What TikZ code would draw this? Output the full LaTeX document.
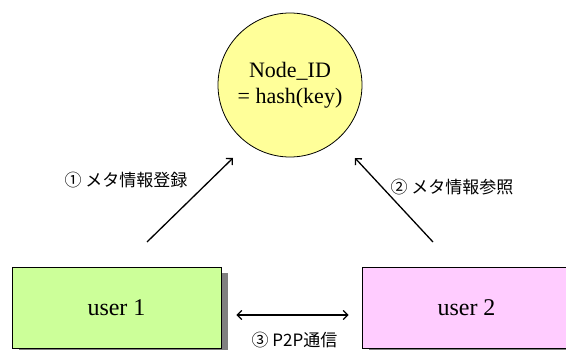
\documentclass[tikz,border=0pt]{standalone}
\usepackage{fontspec}
\setmainfont{Liberation Serif}
\newfontfamily\jpfont{Noto Sans CJK JP}
\usetikzlibrary{arrows.meta,shadows}
\definecolor{circfill}{HTML}{FFFF99}
\definecolor{greenfill}{HTML}{CCFF99}
\definecolor{pinkfill}{HTML}{FFCCFF}
\definecolor{shadowgray}{HTML}{808080}
\tikzset{
  hashcircle/.style={circle,draw=black,line width=0.8pt,fill=circfill,minimum size=144pt,inner sep=0pt,align=center,font=\fontsize{22}{26}\selectfont},
  userbox/.style={rectangle,draw=black,line width=0.8pt,minimum width=209pt,minimum height=81pt,inner sep=0pt,font=\fontsize{24}{28}\selectfont,
    drop shadow={shadow xshift=6.5pt,shadow yshift=-6.5pt,fill=shadowgray,opacity=1}},
  conn/.style={line width=1.3pt,-{Straight Barb[length=4.5pt,width=9pt,line width=1.3pt]}},
  biconn/.style={line width=1.3pt,{Straight Barb[length=4.5pt,width=9pt,line width=1.3pt]}-{Straight Barb[length=4.5pt,width=9pt,line width=1.3pt]}},
  steplabel/.style={inner sep=0pt,font=\jpfont\fontsize{17}{20}\selectfont}
}
\begin{document}
\begin{tikzpicture}[x=1pt,y=-1pt]
\useasboundingbox (0,0) rectangle (566,350);
\node[hashcircle] (hc) at (290,85) {Node\_ID\\= hash(key)};
\node[userbox,fill=greenfill] (u1) at (116.5,307.5) {user 1};
\node[userbox,fill=pinkfill] (u2) at (466.5,307.5) {user 2};
\coordinate (a1s) at (147,242);
\coordinate (a1e) at (233,158);
\coordinate (a2s) at (433,242);
\coordinate (a2e) at (355,158);
\draw[conn] (a1s) -- (a1e);
\draw[conn] (a2s) -- (a2e);
\draw[biconn,shorten <=15pt,shorten >=13pt] ([yshift=-7.5pt]u1.east) -- ([yshift=-7.5pt]u2.west);
\node[steplabel] (l1) at (126,180) {① メタ情報登録};
\node[steplabel] (l2) at (452,187) {② メタ情報参照};
\node[steplabel] (l3) at (294.5,340.5) {③ P2P通信};
\end{tikzpicture}
\end{document}
